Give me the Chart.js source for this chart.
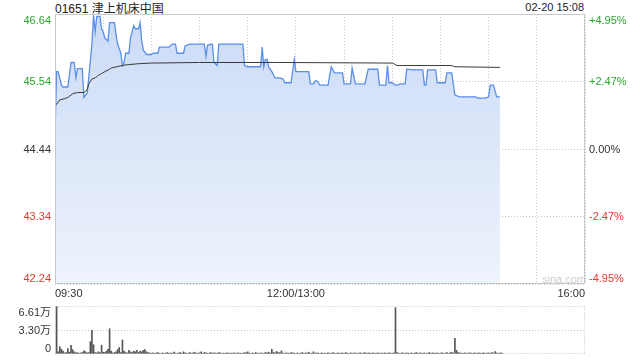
<!DOCTYPE html>
<html>
<head>
<meta charset="utf-8">
<script src="https://cdn.jsdelivr.net/npm/chart.js@4/dist/chart.umd.min.js"></script>
<style>
  html, body { margin: 0; padding: 0; background: #fff; }
  body { width: 640px; height: 360px; position: relative; overflow: hidden; font-family: "Liberation Sans", Arial, sans-serif; }
  #main { position: absolute; left: 0; top: 0; }
  #vol { position: absolute; left: 0; top: 300px; }
  .hdr { position: absolute; top: 0; left: 55px; font-size: 12px; line-height: 15px; color: #222; white-space: nowrap; }
  .hdr .cn { font-family: "Noto Sans CJK SC", sans-serif; font-size: 12px; }
  .time { position: absolute; top: 0; right: 56px; font-size: 11px; line-height: 15px; color: #222; }
  .wm { position: absolute; top: 272px; left: 542px; font-size: 11px; line-height: 14px; color: #cfcfcf; }
</style>
</head>
<body>
<div class="hdr">01651 <span class="cn">津上机床中国</span></div>
<div class="time">02-20 15:08</div>
<div class="wm">sina.com</div>
<canvas id="main" width="640" height="300"></canvas>
<canvas id="vol" width="640" height="60"></canvas>
<script>
// ---- data (minutes after 09:30 on a 330-minute trading axis; lunch break removed) ----
const priceMinutes = [0,1,2,4,5,8,10,12,13,14,17,18,20,21,23,24,25,26,28,29,30,31,33,34,37,38,39,41,42,43,44,46,47,49,50,52,53,54,55,57,60,61,64,65,71,73,75,76,80,81,84,88,93,94,95,97,98,99,101,102,117,118,120,128,129,130,131,132,133,135,137,140,142,143,147,149,150,158,159,161,162,163,165,170,172,174,179,180,184,185,187,193,195,201,202,206,207,208,210,212,213,215,218,219,223,229,230,231,232,237,238,243,244,247,249,252,262,263,268,270,271,273,275,277];
const prices = [44.70,45.70,45.70,45.48,45.45,45.45,45.85,45.85,45.60,45.75,45.75,45.28,45.35,45.60,46.15,46.62,46.35,46.60,46.60,46.40,46.35,46.25,46.20,46.50,46.50,46.30,46.15,46.00,45.80,45.85,46.00,46.00,46.25,46.45,46.40,46.40,46.50,46.20,46.05,45.98,45.98,46.00,46.00,46.10,46.10,46.15,46.15,46.00,46.00,46.12,46.15,46.15,46.15,45.95,46.13,46.15,46.15,45.85,45.80,46.15,46.15,45.80,45.78,45.78,46.10,45.78,45.90,45.90,45.78,45.70,45.60,45.60,45.58,45.52,45.52,45.90,45.70,45.70,45.50,45.50,45.55,45.55,45.48,45.48,45.78,45.68,45.68,45.50,45.50,45.76,45.50,45.50,45.74,45.74,45.48,45.48,45.80,45.52,45.52,45.48,45.48,45.50,45.50,45.74,45.73,45.73,45.48,45.48,45.73,45.73,45.52,45.52,45.68,45.68,45.32,45.29,45.29,45.27,45.27,45.29,45.48,45.48,45.29,45.29];
const avgMinutes = [0,1,3,6,8,11,14,18,20,21,23,25,27,29,31,34,35,40,44,52,60,90,140,210,211,213,247,249,277];
const avgPrices = [45.16,45.17,45.24,45.26,45.28,45.34,45.36,45.36,45.40,45.50,45.58,45.60,45.64,45.67,45.70,45.74,45.76,45.79,45.81,45.83,45.84,45.85,45.85,45.84,45.83,45.80,45.80,45.78,45.77];
// volume per minute, in 万 shares, minutes 0..278
const volumes = [
1.9,6.61,0.3,1.0,0.66,0.4,0.15,0.2,0.75,0.25,
1.2,0.6,0.3,0.15,0.2,0.1,0.15,0.2,0.42,0.3,
0.15,0.2,1.7,3.25,1.27,0.2,0.15,0.3,0.2,1.22,
0.25,0.2,0.4,0.66,3.47,0.4,0.15,0.2,0.3,0.6,
0.9,0.2,1.93,0.4,0.2,0.15,0.5,0.3,0.2,0.4,
0.3,0.5,0.2,0.4,0.3,0.5,0.6,0.3,0.2,0.15,
0.1,0.15,0.1,0.12,0.2,0.1,0.08,0.15,0.1,0.12,
0.2,0.1,0.15,0.1,0.25,0.12,0.1,0.15,0.2,0.1,
0.3,0.15,0.1,0.12,0.2,0.1,0.15,0.25,0.1,0.12,
0.15,0.3,0.1,0.2,0.15,0.1,0.12,0.2,0.1,0.15,
0.12,0.1,0.2,0.15,0.1,0.12,0.1,0.15,0.1,0.12,
0.1,0.15,0.12,0.1,0.15,0.1,0.12,0.1,0.2,0.15,
0.3,0.12,0.1,0.15,0.1,0.2,0.12,0.1,0.15,0.1,
0.12,0.2,0.15,0.25,0.12,0.66,0.2,0.15,0.35,0.2,
0.15,0.42,0.12,0.1,0.15,0.12,0.1,0.2,0.15,0.12,
0.1,0.15,0.1,0.12,0.2,0.1,0.15,0.12,0.25,0.1,
0.12,0.3,0.1,0.15,0.12,0.1,0.15,0.1,0.12,0.1,
0.15,0.12,0.1,0.2,0.12,0.1,0.15,0.1,0.12,0.15,
0.1,0.2,0.12,0.1,0.15,0.12,0.1,0.15,0.1,0.12,
0.15,0.1,0.12,0.2,0.1,0.15,0.12,0.1,0.15,0.1,
0.12,0.15,0.1,0.12,0.1,0.15,0.12,0.1,0.15,0.12,
0.1,0.15,6.37,0.2,0.12,0.1,0.15,0.12,0.1,0.15,
0.12,0.1,0.15,0.1,0.12,0.2,0.1,0.15,0.12,0.1,
0.15,0.1,0.12,0.2,0.1,0.15,0.12,0.1,0.15,0.1,
0.12,0.15,0.1,0.12,0.2,0.1,0.15,0.25,0.12,2.15,
0.5,0.2,0.15,0.12,0.1,0.15,0.12,0.1,0.15,0.12,
0.1,0.15,0.12,0.1,0.15,0.1,0.12,0.15,0.1,0.12,
0.15,0.1,0.2,0.12,0.35,0.15,0.1,0.12,0.15
];
const priceTicks = [42.24, 43.34, 44.44, 45.54, 46.64];
const priceTickLabels = ['42.24', '43.34', '44.44', '45.54', '46.64'];
const pctTicks = [-4.95, -2.47, 0, 2.47, 4.95];
const pctTickLabels = ['-4.95%', '-2.47%', '0.00%', '+2.47%', '+4.95%'];
const volTicks = [0, 3.30, 6.61];
const volTickLabels = ['0', '3.30万', '6.61万'];
const xTickMinutes = [0, 150, 330];
const xTickLabels = ['09:30', '12:00/13:00', '16:00'];

const FONT = '"Liberation Sans", Arial, "Noto Sans CJK SC", sans-serif';
const GREEN = '#2ca52c', RED = '#e8372f', DARK = '#333333';
function signColor(i, mid) { return i > mid ? GREEN : (i < mid ? RED : DARK); }

// Plugin: draw y tick labels (clamped inside the plot like the original) + plot frame
const sideLabels = {
  id: 'sideLabels',
  afterDraw(chart, args, opts) {
    const c = chart.ctx, a = chart.chartArea;
    c.save();
    c.font = '11px ' + FONT;
    c.textBaseline = 'middle';
    (opts.axes || []).forEach(ax => {
      const sc = chart.scales[ax.scale];
      ax.values.forEach((v, i) => {
        let y = sc.getPixelForValue(v);
        y = Math.max(a.top + 6, Math.min(a.bottom - 6, y));
        c.fillStyle = ax.colors ? ax.colors[i] : DARK;
        c.textAlign = ax.side === 'left' ? 'right' : 'left';
        c.fillText(ax.labels[i], ax.side === 'left' ? a.left - 4 : a.right + 4, y + 0.5);
      });
    });
    c.restore();
  }
};
const frame = {
  id: 'frame',
  afterDatasetsDraw(chart, args, opts) {
    const c = chart.ctx, a = chart.chartArea;
    c.save();
    c.lineWidth = 1;
    const L = Math.round(a.left) + 0.5, R = Math.round(a.right) - 0.5, T = Math.round(a.top) + 0.5, B = Math.round(a.bottom) - 0.5;
    const seg = (x1, y1, x2, y2, dashed) => {
      c.beginPath();
      c.setLineDash(dashed ? [1, 2] : []);
      c.strokeStyle = dashed ? '#c4c4c4' : '#c8c8c8';
      c.moveTo(x1, y1); c.lineTo(x2, y2); c.stroke();
    };
    const d = opts.dashed || {};
    seg(L, T, R, T, d.top);
    seg(L, B, R, B, d.bottom);
    seg(L, T, L, B, d.left);
    seg(R, T, R, B, d.right);
    c.restore();
  }
};

const pricePoints = priceMinutes.map((m, i) => ({ x: m, y: prices[i] }));
const avgPoints = avgMinutes.map((m, i) => ({ x: m, y: avgPrices[i] }));

new Chart(document.getElementById('main'), {
  type: 'line',
  data: {
    datasets: [
      { data: avgPoints, borderColor: '#3a3a3a', borderWidth: 1, pointRadius: 0, fill: false, tension: 0, order: 0 },
      {
        data: pricePoints, borderColor: '#5a8fe8', borderWidth: 1.3, pointRadius: 0, tension: 0, order: 1,
        fill: 'start',
        backgroundColor: (ctx) => {
          const ch = ctx.chart, a = ch.chartArea;
          if (!a) return 'rgba(210,224,248,0.8)';
          const g = ch.ctx.createLinearGradient(0, a.top, 0, a.bottom);
          g.addColorStop(0, '#cbdbf6');
          g.addColorStop(1, '#eef3fc');
          return g;
        }
      }
    ]
  },
  options: {
    responsive: false, animation: false, maintainAspectRatio: false,
    layout: { padding: { top: 14, left: 0, right: 0, bottom: 0 } },
    plugins: {
      legend: { display: false }, tooltip: { enabled: false },
      sideLabels: { axes: [
        { scale: 'y', side: 'left', values: priceTicks, labels: priceTickLabels, colors: priceTicks.map((v, i) => signColor(i, 2)) },
        { scale: 'y2', side: 'right', values: pctTicks, labels: pctTickLabels, colors: pctTicks.map((v, i) => signColor(i, 2)) }
      ] },
      frame: { dashed: {} }
    },
    scales: {
      x: {
        type: 'linear', min: 0, max: 330,
        afterBuildTicks(s) { const t = []; for (let m = 0; m <= 330; m += 30) t.push({ value: m }); s.ticks = t; },
        ticks: {
          autoSkip: false, maxRotation: 0, align: 'inner', padding: 3, color: DARK,
          font: { size: 11, family: FONT },
          callback: (v) => { const k = xTickMinutes.indexOf(v); return k >= 0 ? xTickLabels[k] : ''; }
        },
        grid: { color: '#c8c8c8', drawTicks: false },
        border: { display: false, dash: [1, 2] },
        afterFit(s) { s.height = 16; }
      },
      y: {
        position: 'left', min: 42.24, max: 46.64,
        afterBuildTicks(s) { s.ticks = priceTicks.map(v => ({ value: v })); },
        ticks: { display: false },
        grid: { color: '#c8c8c8', drawTicks: false },
        border: { display: false, dash: [1, 2] },
        afterFit(s) { s.width = 55; }
      },
      y2: {
        position: 'right', min: -4.95, max: 4.95,
        afterBuildTicks(s) { s.ticks = pctTicks.map(v => ({ value: v })); },
        ticks: { display: false },
        grid: { display: false, drawTicks: false },
        border: { display: false },
        afterFit(s) { s.width = 55; }
      }
    }
  },
  plugins: [frame, sideLabels]
});

new Chart(document.getElementById('vol'), {
  type: 'bar',
  data: {
    datasets: [{
      data: volumes.map((v, i) => ({ x: i, y: v })),
      backgroundColor: '#555555', borderWidth: 0, barThickness: 1, grouped: false
    }]
  },
  options: {
    responsive: false, animation: false, maintainAspectRatio: false,
    layout: { padding: { top: 6, bottom: 6, left: 0, right: 55 } },
    plugins: {
      legend: { display: false }, tooltip: { enabled: false },
      sideLabels: { axes: [ { scale: 'y', side: 'left', values: volTicks, labels: volTickLabels } ] },
      frame: { dashed: { top: true, bottom: true, right: true } }
    },
    scales: {
      x: { type: 'linear', min: 0, max: 330, offset: false, display: false },
      y: {
        position: 'left', min: 0, max: 6.61,
        afterBuildTicks(s) { s.ticks = volTicks.map(v => ({ value: v })); },
        ticks: { display: false },
        grid: { color: (c) => (c.tick && c.tick.value === 3.30) ? '#c4c4c4' : 'rgba(0,0,0,0)', drawTicks: false },
        border: { display: false, dash: [1, 2] },
        afterFit(s) { s.width = 55; }
      }
    }
  },
  plugins: [frame, sideLabels]
});
</script>
</body>
</html>
